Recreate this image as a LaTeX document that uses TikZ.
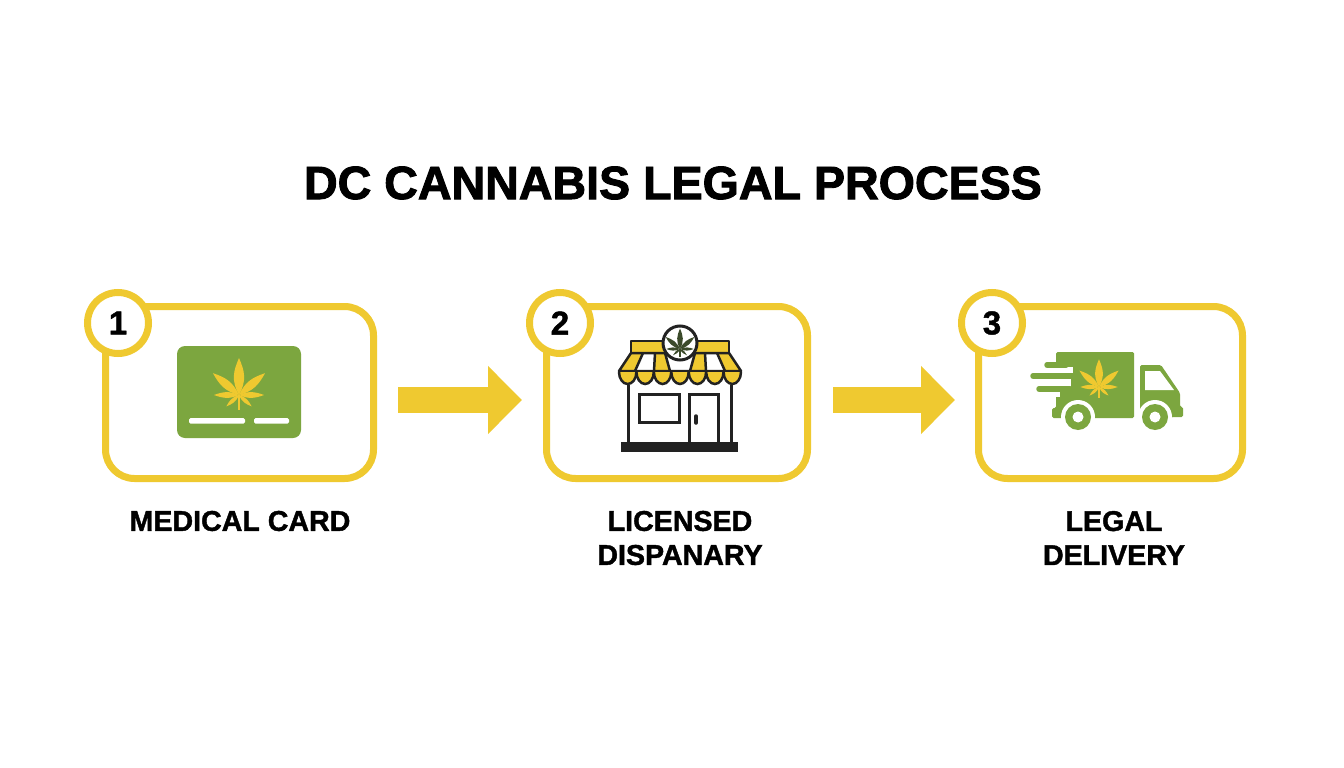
\documentclass[tikz,border=0pt]{standalone}
\usepackage{fontspec}
\usetikzlibrary{arrows.meta}
\setmainfont{Liberation Sans}[BoldFeatures={FakeBold=1.4}]
\newfontfamily\titlefont{Liberation Sans}[BoldFeatures={FakeBold=2}]
\definecolor{ygold}{HTML}{EFC930}
\definecolor{leafgreen}{HTML}{7CA63F}
\definecolor{inkdark}{HTML}{222222}
\definecolor{olive}{HTML}{3B4A2A}
\tikzset{
  stepbox/.style={draw=ygold,line width=7pt,rounded corners=29pt,minimum height=172pt,inner sep=0pt,fill=white},
  badge/.style={circle,draw=ygold,line width=7pt,fill=white,minimum size=61pt,inner sep=0pt,font=\bfseries\fontsize{33}{33}\selectfont,text=black},
  steplabel/.style={font=\bfseries\fontsize{28.6}{34}\selectfont,align=center,text=black,anchor=center},
  flow/.style={draw=ygold,line width=26pt,-{Triangle[length=34pt,width=66pt]}},
  inkline/.style={draw=inkdark,line width=3pt},
  awnline/.style={draw=inkdark,line width=2.5pt},
}
\newcommand{\hempleaf}[4]{%
  \begin{scope}[shift={(#1,#2)},scale=#3]
    \foreach \a/\L/\w in {90/37/8,40/34/6.5,140/34/6.5,0/25/4.5,180/25/4.5,-42/17/3.2,-138/17/3.2}{
      \fill[#4,rotate=\a] (0,0) .. controls (0.4*\L,\w) and (0.65*\L,\w*0.7) .. (\L,0)
        .. controls (0.65*\L,-\w*0.7) and (0.4*\L,-\w) .. (0,0) -- cycle;
    }
    \fill[#4] (-1,0) rectangle (1,15);
  \end{scope}}
\begin{document}
\begin{tikzpicture}[x=1pt,y=-1pt]
\useasboundingbox (0,0) rectangle (1344,768);
\fill[white] (0,0) rectangle (1344,768);

\node[font=\titlefont\bfseries\fontsize{46.6}{50}\selectfont,text=black] (title) at (673,183) {DC CANNABIS LEGAL PROCESS};

\node[stepbox,minimum width=268pt] (box1) at (239.5,392.5) {};
\node[stepbox,minimum width=261pt] (box2) at (677,392.5) {};
\node[stepbox,minimum width=264pt] (box3) at (1110.5,392.5) {};

\node[badge] (b1) at (118,323) {1};
\node[badge] (b2) at (560,323) {2};
\node[badge] (b3) at (992,323) {3};

\coordinate (a1s) at (398,400);
\coordinate (a1e) at (522,400);
\coordinate (a2s) at (833,400);
\coordinate (a2e) at (955,400);
\draw[flow] (a1s) -- (a1e);
\draw[flow] (a2s) -- (a2e);

% card
\fill[leafgreen,rounded corners=8pt] (177,346) rectangle (301,438);
\hempleaf{239}{395}{1}{ygold}
\fill[white,rounded corners=1.5pt] (189,418) rectangle (245,423.5);
\fill[white,rounded corners=1.5pt] (254,418) rectangle (289,423.5);

% store
\fill[inkdark] (621,442) rectangle (738,452);
\draw[inkline] (628,385) -- (628,442);
\draw[inkline] (731,385) -- (731,442);
\draw[inkline] (639,394) rectangle (679,422);
\draw[inkline] (689,442) -- (689,394) -- (718,394) -- (718,442);
\draw[inkdark,line width=3.5pt,line cap=round] (696,416) -- (696,423);
\draw[awnline,fill=ygold,line join=round] (631,341) rectangle (729,353);
% awning stripes
\fill[white] (631,353) -- (729,353) -- (741,371) -- (619,371) -- cycle;
\fill[ygold] (631,353) -- (643,353) -- (635,371) -- (619,371) -- cycle;
\fill[ygold] (655,353) -- (665,353) -- (670,371) -- (654,371) -- cycle;
\fill[ygold] (695,353) -- (705,353) -- (706,371) -- (690,371) -- cycle;
\fill[ygold] (717,353) -- (729,353) -- (741,371) -- (725,371) -- cycle;
\draw[awnline] (643,353) -- (635,371);
\draw[awnline] (655,353) -- (654,371);
\draw[awnline] (665,353) -- (670,371);
\draw[awnline] (695,353) -- (690,371);
\draw[awnline] (705,353) -- (706,371);
\draw[awnline] (717,353) -- (725,371);
\draw[awnline,line join=round] (631,353) -- (729,353) -- (741,371) -- (619,371) -- cycle;
\foreach \i in {0,...,6}{
  \draw[awnline,fill=ygold] ({619+17.43*\i},372) arc[start angle=180,end angle=360,x radius=8.7pt,y radius=12pt];
}
\draw[inkline,fill=white] (680,343) circle[radius=17pt];
\hempleaf{680}{349}{0.55}{olive}

% truck
\fill[leafgreen,rounded corners=1.5pt] (1056,352) -- (1134,352) -- (1134,418) -- (1052,418) -- (1052,408) -- (1056,408) -- cycle;
\fill[white] (1040,367) rectangle (1073,373);
\fill[white] (1040,379) rectangle (1071,387);
\fill[white] (1040,392) rectangle (1060,397);
\draw[leafgreen,line width=5.5pt,line cap=round] (1047,365) -- (1066,365);
\draw[leafgreen,line width=5.5pt,line cap=round] (1033,376) -- (1072,376);
\draw[leafgreen,line width=5.5pt,line cap=round] (1039,389) -- (1070,389);
\fill[leafgreen,rounded corners=1.5pt] (1140,365) -- (1161,365) -- (1180,393) -- (1180,407) -- (1183,407) -- (1183,417) -- (1140,418) -- cycle;
\fill[white] (1145,371) -- (1160,371) -- (1174,390) -- (1145,390) -- cycle;
\hempleaf{1099}{387}{0.75}{ygold}
\foreach \cx in {1078,1155}{
  \fill[white] (\cx,417) circle[radius=17pt];
  \fill[leafgreen] (\cx,417) circle[radius=13pt];
  \fill[white] (\cx,417) circle[radius=5.5pt];
}

\node[steplabel] (l1) at (240,521) {MEDICAL CARD};
\node[steplabel] (l2) at (680,538) {LICENSED\\DISPANARY};
\node[steplabel] (l3) at (1114,538) {LEGAL\\DELIVERY};
\end{tikzpicture}
\end{document}
